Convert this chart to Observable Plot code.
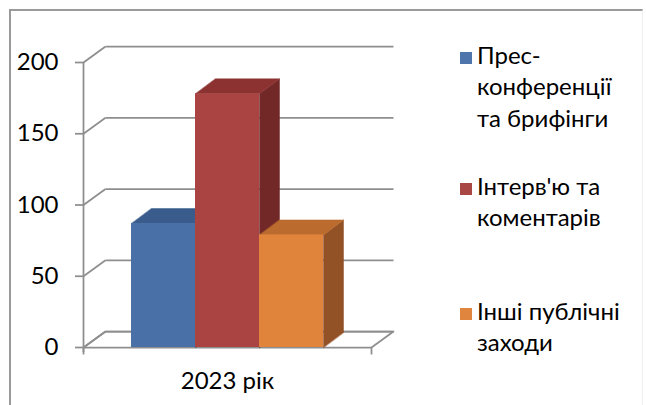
<!DOCTYPE html>
<html><head><meta charset="utf-8">
<script src="https://cdn.jsdelivr.net/npm/d3@7"></script>
<script src="https://cdn.jsdelivr.net/npm/@observablehq/plot@0.6"></script>
<style>
body{margin:0;background:#fff;}
#wrap{position:relative;width:646px;height:405px;overflow:hidden;font-family:Lato,"Noto Sans",sans-serif;color:#000;}
#frame{position:absolute;left:9px;top:9px;width:634px;height:420px;border-top:2px solid #9a9a9a;border-left:2px solid #9a9a9a;border-right:1px solid #eeeeee;box-sizing:border-box;}
#chart{position:absolute;left:0;top:0;}
.item{position:absolute;left:477px;font-size:24px;line-height:31.5px;white-space:nowrap;}
.sw{position:absolute;width:12px;height:12px;}
</style>
</head><body>
<div id="wrap"><div id="frame"></div><div id="chart"></div><div id="legend"></div></div>
<script>
const category = "2023 рік";
const series = ["Прес-конференції та брифінги", "Інтерв'ю та коментарів", "Інші публічні заходи"];
const legendLines = [["Прес-", "конференції", "та брифінги"], ["Інтерв'ю та", "коментарів"], ["Інші публічні", "заходи"]];
const values = [87, 178, 79];
const yTicks = [0, 50, 100, 150, 200];
const frontColors = ["#4a71a7", "#a94442", "#e1843b"];
const topColors = ["#3a5c8c", "#8c3231", "#bb6b2d"];
const sideColors = ["#31507a", "#732828", "#935126"];
const swatchColors = ["#4f75ad", "#a94745", "#e0853d"];

const W = 646, H = 405, mL = 83, mR = 275, mT = 62, mB = 58;
const gap = 1.5; // gap width (in bar widths)
const n = values.length;
const xDomain = [0, n + gap];
const yDomain = [0, 200];
const kx = (W - mL - mR) / (xDomain[1] - xDomain[0]);
const ky = (H - mT - mB) / (yDomain[1] - yDomain[0]);
const wallDX = 22 / kx, wallDY = 16 / ky;
const barDX = 20 / kx, barDY = 15 / ky;
const grid = "#8e8e8e";

const marks = [];
// back wall gridlines
marks.push(Plot.link(yTicks, {x1: wallDX, x2: xDomain[1] + wallDX, y1: d => d + wallDY, y2: d => d + wallDY, stroke: grid, strokeWidth: 1.75}));
// side wall diagonals
marks.push(Plot.link(yTicks, {x1: 0, x2: wallDX, y1: d => d, y2: d => d + wallDY, stroke: grid, strokeWidth: 1.75}));
// floor
const floor = [[0, 0], [xDomain[1], 0], [xDomain[1] + wallDX, wallDY], [wallDX, wallDY]].map(([x, y]) => ({x, y}));
marks.push(Plot.line(floor, {x: "x", y: "y", curve: "linear-closed", stroke: grid, strokeWidth: 1.75, fill: "none"}));
// category boundary ticks
marks.push(Plot.link(xDomain, {x1: d => d, x2: d => d, y1: 0, y2: -7 / ky, stroke: grid, strokeWidth: 1.75}));
// front axis line
marks.push(Plot.ruleX([0], {y1: -5 / ky, y2: yDomain[1], stroke: grid, strokeWidth: 1.75}));

values.forEach((v, i) => {
  const x1 = gap / 2 + i, x2 = x1 + 1;
  const side = [[x2, 0], [x2, v], [x2 + barDX, v + barDY], [x2 + barDX, barDY]].map(([x, y]) => ({x, y}));
  const top = [[x1, v], [x2, v], [x2 + barDX, v + barDY], [x1 + barDX, v + barDY]].map(([x, y]) => ({x, y}));
  marks.push(Plot.line(side, {x: "x", y: "y", curve: "linear-closed", fill: sideColors[i], stroke: sideColors[i], strokeWidth: 0.5}));
  marks.push(Plot.line(top, {x: "x", y: "y", curve: "linear-closed", fill: topColors[i], stroke: topColors[i], strokeWidth: 0.5}));
  marks.push(Plot.rect([{x1, x2, v}], {x1: "x1", x2: "x2", y1: 0, y2: "v", fill: frontColors[i]}));
});

marks.push(Plot.axisY(yTicks, {tickSize: 8, tickPadding: 17, stroke: grid, strokeWidth: 1.75, fontSize: 24, fill: "#000", label: null}));
marks.push(Plot.text([category], {x: (xDomain[0] + xDomain[1]) / 2, y: 0, dy: 34, fontSize: 24, fill: "#000"}));

const chart = Plot.plot({
  width: W, height: H,
  marginLeft: mL, marginRight: mR, marginTop: mT, marginBottom: mB,
  x: {domain: xDomain, axis: null},
  y: {domain: yDomain, axis: null},
  style: {fontFamily: 'Lato, "Noto Sans", sans-serif', background: "transparent", overflow: "visible"},
  marks
});
document.getElementById("chart").appendChild(chart);

const baselines = [64, 195, 320];
const legend = document.getElementById("legend");
legendLines.forEach((lines, i) => {
  const sw = document.createElement("div");
  sw.className = "sw";
  sw.style.left = "460px";
  sw.style.top = (baselines[i] - 12) + "px";
  sw.style.background = swatchColors[i];
  sw.title = series[i];
  legend.appendChild(sw);
  const it = document.createElement("div");
  it.className = "item";
  it.style.top = (baselines[i] - 25.1) + "px";
  it.innerHTML = lines.join("<br>");
  legend.appendChild(it);
});
</script>
</body></html>
